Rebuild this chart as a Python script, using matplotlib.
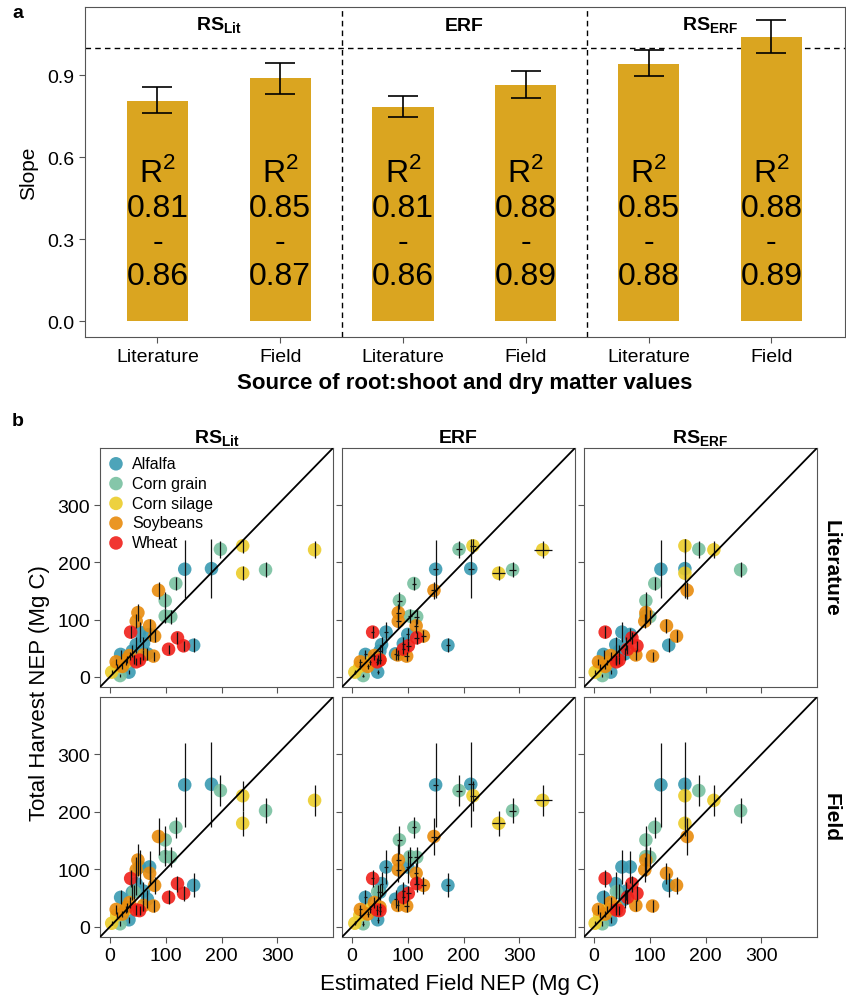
import matplotlib
matplotlib.use("Agg")
import matplotlib.pyplot as plt
import numpy as np

plt.rcParams['font.family'] = ['Liberation Sans Narrow', 'Liberation Sans', 'DejaVu Sans']
plt.rcParams['mathtext.fontset'] = 'custom'
plt.rcParams['mathtext.rm'] = 'Liberation Sans'
plt.rcParams['mathtext.bf'] = 'Liberation Sans:bold'

# ---- panel a data ----
methods = ['RS$_{\\mathbf{Lit}}$', 'ERF', 'RS$_{\\mathbf{ERF}}$']
sources = ['Literature', 'Field', 'Literature', 'Field', 'Literature', 'Field']
slope = [0.805, 0.888, 0.782, 0.865, 0.940, 1.040]
slope_lo = [0.762, 0.830, 0.745, 0.815, 0.895, 0.980]
slope_hi = [0.855, 0.945, 0.822, 0.915, 0.990, 1.100]
r2_lo = ['0.81', '0.85', '0.81', '0.88', '0.85', '0.88']
r2_hi = ['0.86', '0.87', '0.86', '0.89', '0.88', '0.89']

# ---- panel b data ----
crops = ['Alfalfa', 'Corn grain', 'Corn silage', 'Soybeans', 'Wheat']
crop_colors = ['#3A9AB2', '#78C0A0', '#EBCC2A', '#E88B0C', '#F0201A']
crop = (['Alfalfa'] * 11 + ['Corn grain'] * 8 + ['Corn silage'] * 6
        + ['Soybeans'] * 11 + ['Wheat'] * 6)
x_lit = [134, 182, 150, 53, 47, 71, 19, 34, 67, 40, 60,
         198, 279, 118, 99, 99, 109, 18, 43,
         367, 238, 238, 3, 12, 28,
         87, 50, 47, 71, 80, 78, 11, 35, 22, 60, 30,
         37, 121, 132, 105, 47, 53]
x_erf = [150, 213, 172, 61, 53, 100, 24, 46, 78, 50, 92,
         192, 288, 111, 85, 104, 116, 20, 46,
         342, 217, 263, 5, 14, 32,
         147, 83, 83, 115, 128, 98, 15, 40, 28, 82, 50,
         37, 116, 101, 92, 45, 50]
x_rserf = [120, 163, 134, 50, 39, 65, 17, 30, 55, 45, 58,
           188, 263, 109, 93, 93, 100, 15, 40,
           215, 163, 163, 2, 10, 24,
           167, 93, 91, 130, 148, 105, 8, 30, 20, 75, 40,
           20, 68, 77, 60, 40, 45]
y_lit = [188, 189, 55, 78, 56, 74, 39, 8, 40, 45, 58,
         223, 187, 163, 133, 106, 105, 2, 30,
         222, 229, 181, 8, 18, 25,
         151, 112, 97, 89, 71, 36, 26, 37, 18, 38, 30,
         78, 68, 54, 48, 26, 29]
y_field = [247, 248, 72, 104, 75, 104, 51, 12, 48, 60, 62,
           237, 202, 173, 151, 122, 121, 5, 61,
           220, 228, 180, 6, 20, 30,
           157, 116, 99, 93, 72, 36, 30, 42, 22, 37, 34,
           84, 75, 58, 51, 29, 28]
yerr_lit = [51, 51, 12, 18, 14, 12, 8, 4, 10, 10, 12,
            15, 13, 12, 15, 12, 12, 3, 8,
            15, 12, 12, 3, 4, 5,
            15, 15, 12, 12, 10, 8, 5, 7, 4, 8, 6,
            10, 10, 9, 8, 6, 6]
yerr_field = [73, 74, 21, 30, 20, 28, 12, 5, 15, 14, 16,
              27, 22, 18, 25, 17, 17, 4, 12,
              27, 26, 22, 3, 5, 6,
              32, 28, 22, 18, 15, 10, 8, 10, 6, 10, 8,
              15, 14, 13, 12, 8, 8]
xerr_erf = [4, 5, 4, 3, 3, 3, 2, 2, 3, 3, 3,
            6, 7, 4, 4, 4, 4, 2, 2,
            16, 6, 12, 2, 2, 2,
            5, 4, 4, 4, 4, 4, 2, 2, 2, 3, 2,
            3, 4, 4, 3, 2, 2]

W, H = 846, 1004
fig = plt.figure(figsize=(W / 100, H / 100), dpi=100)


def px_axes(l, t, r, b):
    return fig.add_axes([l / W, 1 - b / H, (r - l) / W, (b - t) / H])


spine_col = '#555555'

# ================= panel a =================
ax = px_axes(85, 8, 845, 338)
pos = np.arange(1, 7)
ax.bar(pos, slope, width=0.5, color='#DAA520', zorder=2)
err = [np.array(slope) - np.array(slope_lo), np.array(slope_hi) - np.array(slope)]
ax.errorbar(pos, slope, yerr=err, fmt='none', ecolor='black', capsize=11,
            elinewidth=1.2, capthick=1.2, zorder=3)
ax.axhline(1.0, color='black', ls=(0, (4, 3)), lw=1, zorder=1)
for xv in [2.5, 4.5]:
    ax.axvline(xv, color='black', ls=(0, (4, 3)), lw=1, zorder=1)
for p, lo, hi in zip(pos, r2_lo, r2_hi):
    ax.text(p, 0.545, 'R$^2$', ha='center', va='center', fontsize=23, zorder=4)
    ax.text(p, 0.415, lo, ha='center', va='center', fontsize=23, zorder=4)
    ax.text(p, 0.29, '-', ha='center', va='center', fontsize=23, zorder=4)
    ax.text(p, 0.165, hi, ha='center', va='center', fontsize=23, zorder=4)
for i, m in enumerate(methods):
    ax.text(1.5 + 2 * i, 1.083, m, ha='center', va='center', fontsize=14,
            fontweight='bold')
ax.set_xlim(0.41, 6.6)
ax.set_ylim(-0.0585, 1.149)
ax.set_xticks(pos)
ax.set_xticklabels(sources, fontsize=14)
ax.set_yticks([0.0, 0.3, 0.6, 0.9])
ax.set_yticklabels(['0.0', '0.3', '0.6', '0.9'], fontsize=14)
ax.tick_params(length=4, color=spine_col, pad=4)
ax.set_ylabel('Slope', fontsize=15, labelpad=6)
ax.set_xlabel('Source of root:shoot and dry matter values', fontsize=16,
              fontweight='bold', labelpad=5)
for s in ax.spines.values():
    s.set_color(spine_col)
fig.text(12 / W, 1 - 14 / H, 'a', fontsize=14, fontweight='bold', va='center')

# ================= panel b =================
fig.text(12 / W, 1 - 421 / H, 'b', fontsize=14, fontweight='bold', va='center')
col_px = [(100, 333), (342, 575), (584, 817)]
row_px = [(449, 688), (698, 938)]
x_cols = [x_lit, x_erf, x_rserf]
y_rows = [y_lit, y_field]
yerr_rows = [yerr_lit, yerr_field]
row_names = ['Literature', 'Field']
color_of = dict(zip(crops, crop_colors))
lim = (-18, 400)

for r, (t, b) in enumerate(row_px):
    for c, (l, rr) in enumerate(col_px):
        axb = px_axes(l, t, rr, b)
        xs = np.array(x_cols[c], dtype=float)
        ys = np.array(y_rows[r], dtype=float)
        ye = np.array(yerr_rows[r], dtype=float)
        xe = np.array(xerr_erf, dtype=float) if c == 1 else None
        for cr in crops:
            idx = [i for i, k in enumerate(crop) if k == cr]
            axb.scatter(xs[idx], ys[idx], s=95, color=color_of[cr], alpha=0.9,
                        edgecolors='none', zorder=2, label=cr)
        axb.errorbar(xs, ys, yerr=ye, xerr=xe, fmt='none', ecolor='#111111',
                     elinewidth=0.9, capsize=0, zorder=3)
        axb.plot(lim, lim, color='black', lw=1.3, zorder=4)
        axb.set_xlim(lim)
        axb.set_ylim(lim)
        axb.set_xticks([0, 100, 200, 300])
        axb.set_yticks([0, 100, 200, 300])
        axb.tick_params(length=4, color=spine_col, labelsize=14, pad=3)
        if c != 0:
            axb.set_yticklabels([])
        if r != 1:
            axb.set_xticklabels([])
        for s in axb.spines.values():
            s.set_color(spine_col)
        if r == 0:
            axb.set_title(methods[c], fontsize=14, fontweight='bold', pad=4)
        if c == 2:
            axb.text(1.06, 0.5, row_names[r], transform=axb.transAxes,
                     rotation=270, ha='center', va='center', fontsize=15,
                     fontweight='bold')
        if r == 0 and c == 0:
            axb.legend(loc='upper left', frameon=False, fontsize=11.5,
                       handletextpad=0.5, borderaxespad=0.2,
                       labelspacing=0.3, handlelength=1.0,
                       borderpad=0.3, scatterpoints=1)

fig.text(40 / W, 1 - 693 / H, 'Total Harvest NEP (Mg C)', rotation=90,
         ha='center', va='center', fontsize=16)
fig.text(460 / W, 1 - 985 / H, 'Estimated Field NEP (Mg C)', ha='center',
         va='center', fontsize=16)

fig.savefig('out.png', dpi=100)
